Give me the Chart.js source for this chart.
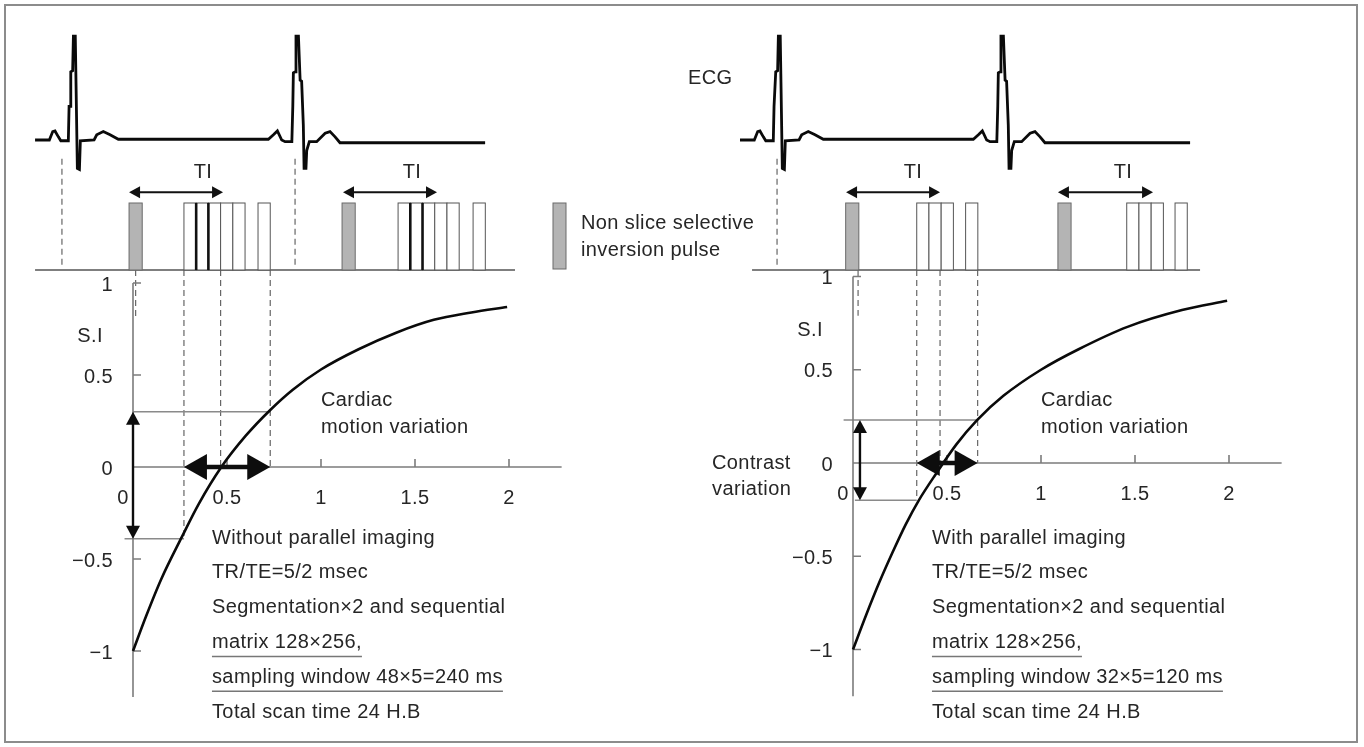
<!DOCTYPE html>
<html>
<head>
<meta charset="utf-8">
<script src="https://cdn.jsdelivr.net/npm/chart.js@4.4.1/dist/chart.umd.min.js"></script>
<style>
    html, body { margin: 0; padding: 0; background: #fff; }
    #marco { width: 1364px; height: 747px; }
</style>
</head>
<body>
<div id="marco"><canvas id="grafico" width="1364" height="747"></canvas></div>
<script>
// ================== DATOS ==================

// Ejes de la curva de recuperacion (tiempo en s, S.I relativa)
const xTicks = [0.5, 1, 1.5, 2];
const yTicks = [1, 0.5, -0.5, -1];
const yTickValues = [1, 0.5, 0, -0.5, -1];
const yTickLabels = ['1', '0.5', '0', '\u22120.5', '\u22121'];

// ECG: tiempo desde el inicio del trazo (s) y amplitud relativa a la onda R
const ecgT = [0, 0.076, 0.094, 0.106, 0.124, 0.137, 0.177, 0.181, 0.186, 0.190, 0.200, 0.204, 0.214,
    0.225, 0.236, 0.241, 0.314, 0.328, 0.363, 0.399, 0.443, 1.241, 1.268, 1.289, 1.312, 1.330, 1.366,
    1.371, 1.374, 1.385, 1.388, 1.401, 1.410, 1.418, 1.427, 1.431, 1.441, 1.445, 1.459, 1.498,
    1.543, 1.569, 1.596, 1.622, 2.394];
const ecgV = [0, 0, 0.08, 0.086, 0.03, -0.007, -0.007, 0.32, 0.32, 0.65, 0.66, 0.99, 0.99,
    -0.27, -0.28, -0.007, 0, 0.05, 0.08, 0.05, 0.007, 0.007, 0.05, 0.086, 0, -0.016, -0.016,
    0.32, 0.64, 0.65, 0.99, 0.99, 0.57, 0.56, 0.14, -0.27, -0.27, -0.1, -0.016, -0.016,
    0.064, 0.08, 0.03, -0.026, -0.026];
const ecgStartL = -0.521;
const ecgStartR = -0.601;

// Curvas de recuperacion de la senal
const curveLX = [0, 0.07, 0.15, 0.26, 0.35, 0.47, 0.6, 0.73, 0.85, 1.0, 1.2, 1.4, 1.6, 1.8, 1.99];
const curveLY = [-1, -0.81, -0.61, -0.38, -0.20, 0, 0.17, 0.31, 0.42, 0.53, 0.64, 0.73, 0.80, 0.84, 0.87];
const curveRX = [0, 0.07, 0.14, 0.21, 0.28, 0.35, 0.44, 0.55, 0.66, 0.8, 1.0, 1.2, 1.46, 1.75, 1.99];
const curveRY = [-1, -0.815, -0.64, -0.48, -0.33, -0.20, -0.06, 0.10, 0.23, 0.36, 0.50, 0.61, 0.73, 0.82, 0.87];

// Secuencia de pulsos (inicio de cada bloque, s)
const invWidth = 0.07;
const boxWidth = 0.065;
const invL = [-0.021, 1.112];
const readL = [0.271, 0.336, 0.401, 0.466, 0.531, 0.665, 1.410, 1.475, 1.540, 1.605, 1.670, 1.809];
const thickL = [0.336, 0.401, 1.475, 1.540];
const invR = [-0.039, 1.090];
const readR = [0.339, 0.404, 0.469, 0.599, 1.456, 1.521, 1.586, 1.713];
const thickR = [];

// TI (inicio, fin) y posicion de la etiqueta
const tiL = [[-0.021, 0.479], [1.117, 1.617]];
const tiLabelL = [0.372, 1.484];
const tiR = [[-0.037, 0.463], [1.090, 1.596]];
const tiLabelR = [0.319, 1.436];

// Disparos del ECG (lineas discontinuas superiores)
const trigL = [-0.378, 0.862];
const trigR = [-0.404];
const baseL = [-0.521, 2.032];
const baseR = [-0.537, 1.846];

// Lineas discontinuas hacia la curva: tiempo y S.I donde terminan
const marksL = [0.014, 0.271, 0.466, 0.730];
const marksEndL = [0.82, -0.39, 0, 0];
const marksR = [0.027, 0.339, 0.463, 0.663];
const marksEndR = [0.79, -0.20, 0, 0];

// Lineas horizontales [desde, hasta, S.I]
const hLinesL = [[0, 0.730, 0.30], [-0.045, 0.271, -0.39]];
const hLinesR = [[-0.05, 0.663, 0.23], [0.01, 0.339, -0.20]];

// Flechas: variacion de contraste [x, S.I min, S.I max] y de movimiento [t0, t1]
const contrastL = [0, -0.39, 0.30];
const contrastR = [0.037, -0.20, 0.23];
const motionL = [0.271, 0.730];
const motionR = [0.339, 0.663];

const textL = ['Without parallel imaging', 'TR/TE=5/2 msec', 'Segmentation\u00d72 and sequential',
    'matrix 128\u00d7256,', 'sampling window 48\u00d75=240 ms', 'Total scan time 24 H.B'];
const textR = ['With parallel imaging', 'TR/TE=5/2 msec', 'Segmentation\u00d72 and sequential',
    'matrix 128\u00d7256,', 'sampling window 32\u00d75=120 ms', 'Total scan time 24 H.B'];

// ================== CONFIGURACION DE PANELES ==================

const FUENTE = '20px "Liberation Sans", Arial, sans-serif';
const TINTA = '#262626';
const GRIS = '#7c7c7c';

const paneles = [
    { x: 'xL', y: 'yL', inv: invL, read: readL, thick: thickL, ti: tiL, tiLabel: tiLabelL,
      trig: trigL, base: baseL, marks: marksL, marksEnd: marksEndL, hLines: hLinesL,
      contrast: contrastL, motion: motionL, text: textL },
    { x: 'xR', y: 'yR', inv: invR, read: readR, thick: thickR, ti: tiR, tiLabel: tiLabelR,
      trig: trigR, base: baseR, marks: marksR, marksEnd: marksEndR, hLines: hLinesR,
      contrast: contrastR, motion: motionR, text: textR }
];

// Flecha doble con puntas rellenas
function flecha(ctx, x1, y1, x2, y2, largo, ancho, grosor) {
    const ang = Math.atan2(y2 - y1, x2 - x1);
    const c = Math.cos(ang), s = Math.sin(ang);
    ctx.lineWidth = grosor;
    ctx.beginPath();
    ctx.moveTo(x1 + c * largo * 0.8, y1 + s * largo * 0.8);
    ctx.lineTo(x2 - c * largo * 0.8, y2 - s * largo * 0.8);
    ctx.stroke();
    [[x2, y2, c, s], [x1, y1, -c, -s]].forEach(function (p) {
        const x = p[0], y = p[1], cc = p[2], ss = p[3];
        ctx.beginPath();
        ctx.moveTo(x, y);
        ctx.lineTo(x - cc * largo - ss * ancho, y - ss * largo + cc * ancho);
        ctx.lineTo(x - cc * largo + ss * ancho, y - ss * largo - cc * ancho);
        ctx.closePath();
        ctx.fill();
    });
}

function texto(ctx, t, x, y, align) {
    ctx.textAlign = align || 'left';
    ctx.fillText(t, x, y);
}

// Fondo de cada panel: pulsos, ejes y guias
function dibujarFondo(chart, p) {
    const ctx = chart.ctx;
    const sx = chart.scales[p.x], sy = chart.scales[p.y], sp = chart.scales.yP;
    const X = v => sx.getPixelForValue(v);
    const Y = v => sy.getPixelForValue(v);
    const P = v => sp.getPixelForValue(v);

    // linea base de pulsos
    ctx.strokeStyle = '#555';
    ctx.lineWidth = 1.5;
    ctx.beginPath();
    ctx.moveTo(X(p.base[0]), P(0));
    ctx.lineTo(X(p.base[1]), P(0));
    ctx.stroke();

    // disparo del ECG
    ctx.setLineDash([6, 4]);
    ctx.lineWidth = 1.2;
    ctx.strokeStyle = '#666';
    p.trig.forEach(function (t) {
        ctx.beginPath();
        ctx.moveTo(X(t), P(1.66));
        ctx.lineTo(X(t), P(0.08));
        ctx.stroke();
    });

    // lineas discontinuas hasta la curva
    p.marks.forEach(function (t, i) {
        ctx.beginPath();
        ctx.moveTo(X(t), P(0));
        ctx.lineTo(X(t), Y(p.marksEnd[i]));
        ctx.stroke();
    });
    ctx.setLineDash([]);

    // pulsos de inversion
    ctx.lineWidth = 1;
    p.inv.forEach(function (t) {
        const x0 = X(t), x1 = X(t + invWidth);
        ctx.fillStyle = '#b4b4b4';
        ctx.fillRect(x0, P(1), x1 - x0, P(0) - P(1));
        ctx.strokeStyle = '#6a6a6a';
        ctx.strokeRect(x0, P(1), x1 - x0, P(0) - P(1));
    });

    // lecturas
    p.read.forEach(function (t) {
        const x0 = X(t), x1 = X(t + boxWidth);
        ctx.fillStyle = '#fff';
        ctx.fillRect(x0, P(1), x1 - x0, P(0) - P(1));
        ctx.strokeStyle = '#555';
        ctx.lineWidth = 1;
        ctx.strokeRect(x0, P(1), x1 - x0, P(0) - P(1));
    });
    ctx.strokeStyle = '#111';
    ctx.lineWidth = 2.6;
    p.thick.forEach(function (t) {
        ctx.beginPath();
        ctx.moveTo(X(t), P(1));
        ctx.lineTo(X(t), P(0));
        ctx.stroke();
    });

    // TI
    ctx.strokeStyle = '#111';
    ctx.fillStyle = '#111';
    p.ti.forEach(function (r) {
        flecha(ctx, X(r[0]), P(1.16), X(r[1]), P(1.16), 11, 6, 2);
    });
    ctx.fillStyle = TINTA;
    ctx.font = FUENTE;
    ctx.textBaseline = 'middle';
    p.tiLabel.forEach(function (t) { texto(ctx, 'TI', X(t), P(1.46), 'center'); });

    // lineas horizontales de referencia
    ctx.strokeStyle = '#8a8a8a';
    ctx.lineWidth = 1.5;
    p.hLines.forEach(function (h) {
        ctx.beginPath();
        ctx.moveTo(X(h[0]), Y(h[2]));
        ctx.lineTo(X(h[1]), Y(h[2]));
        ctx.stroke();
    });

    // ejes
    ctx.strokeStyle = GRIS;
    ctx.lineWidth = 1.6;
    ctx.beginPath();
    ctx.moveTo(X(0), Y(1));
    ctx.lineTo(X(0), Y(-1.25));
    ctx.moveTo(X(0), Y(0));
    ctx.lineTo(X(2.28), Y(0));
    yTicks.forEach(function (v) {
        ctx.moveTo(X(0), Y(v));
        ctx.lineTo(X(0) + 8, Y(v));
    });
    xTicks.forEach(function (v) {
        ctx.moveTo(X(v), Y(0));
        ctx.lineTo(X(v), Y(0) - 8);
    });
    ctx.stroke();

    // etiquetas de los ejes
    ctx.fillStyle = TINTA;
    yTickValues.forEach(function (v, i) {
        texto(ctx, yTickLabels[i], X(0) - 20, Y(v) + 2, 'right');
    });
    texto(ctx, '0', X(0) - 10, Y(0) + 31, 'center');
    xTicks.forEach(function (v) {
        texto(ctx, String(v), X(v), Y(0) + 31, 'center');
    });
    texto(ctx, 'S.I', X(0) - 30, Y(0.71), 'right');
}

// Frente: flechas y textos
function dibujarFrente(chart, p) {
    const ctx = chart.ctx;
    const sx = chart.scales[p.x], sy = chart.scales[p.y];
    const X = v => sx.getPixelForValue(v);
    const Y = v => sy.getPixelForValue(v);

    ctx.strokeStyle = '#0d0d0d';
    ctx.fillStyle = '#0d0d0d';
    flecha(ctx, X(p.contrast[0]), Y(p.contrast[2]), X(p.contrast[0]), Y(p.contrast[1]), 13, 7, 2.4);
    flecha(ctx, X(p.motion[0]), Y(0), X(p.motion[1]), Y(0), 23, 13, 4.5);

    ctx.fillStyle = TINTA;
    ctx.font = FUENTE;
    ctx.textBaseline = 'middle';
    texto(ctx, 'Cardiac', X(1.0), 400);
    texto(ctx, 'motion variation', X(1.0), 427);

    const tx = X(0.42);
    p.text.forEach(function (t, i) {
        const ty = 538 + i * 34.8;
        texto(ctx, t, tx, ty);
        if (i === 3 || i === 4) {
            const w = ctx.measureText(t).width;
            ctx.strokeStyle = '#777';
            ctx.lineWidth = 1.5;
            ctx.beginPath();
            ctx.moveTo(tx, ty + 14);
            ctx.lineTo(tx + w, ty + 14);
            ctx.stroke();
        }
    });
}

const diagrama = {
    id: 'diagrama',
    beforeDatasetsDraw(chart) {
        const ctx = chart.ctx;
        ctx.save();
        if ('letterSpacing' in ctx) ctx.letterSpacing = '0.4px';
        ctx.strokeStyle = '#8c8c8c';
        ctx.lineWidth = 2;
        ctx.strokeRect(5, 5, 1352, 737);
        paneles.forEach(p => dibujarFondo(chart, p));

        // leyenda del pulso de inversion
        ctx.fillStyle = '#b4b4b4';
        ctx.fillRect(553, 203, 13, 66);
        ctx.strokeStyle = '#6a6a6a';
        ctx.lineWidth = 1;
        ctx.strokeRect(553, 203, 13, 66);
        ctx.fillStyle = TINTA;
        ctx.font = FUENTE;
        ctx.textBaseline = 'middle';
        texto(ctx, 'Non slice selective', 581, 223);
        texto(ctx, 'inversion pulse', 581, 250);
        texto(ctx, 'ECG', 688, 78);
        texto(ctx, 'Contrast', 712, 463);
        texto(ctx, 'variation', 712, 489);
        ctx.restore();
    },
    afterDatasetsDraw(chart) {
        const ctx = chart.ctx;
        ctx.save();
        if ('letterSpacing' in ctx) ctx.letterSpacing = '0.4px';
        paneles.forEach(p => dibujarFrente(chart, p));
        ctx.restore();
    }
};

// ================== GRAFICO ==================

const lineaNegra = { borderColor: '#0a0a0a', pointRadius: 0, fill: false };

new Chart(document.getElementById('grafico'), {
    type: 'line',
    data: {
        datasets: [
            Object.assign({ label: 'ECG izq', xAxisID: 'xL', yAxisID: 'yE', tension: 0, borderWidth: 2.8,
                data: ecgT.map((t, i) => ({ x: ecgStartL + t, y: ecgV[i] })) }, lineaNegra),
            Object.assign({ label: 'ECG der', xAxisID: 'xR', yAxisID: 'yE', tension: 0, borderWidth: 2.8,
                data: ecgT.map((t, i) => ({ x: ecgStartR + t, y: ecgV[i] })) }, lineaNegra),
            Object.assign({ label: 'Sin imagen paralela', xAxisID: 'xL', yAxisID: 'yL', borderWidth: 2.6,
                cubicInterpolationMode: 'monotone',
                data: curveLX.map((x, i) => ({ x: x, y: curveLY[i] })) }, lineaNegra),
            Object.assign({ label: 'Con imagen paralela', xAxisID: 'xR', yAxisID: 'yR', borderWidth: 2.6,
                cubicInterpolationMode: 'monotone',
                data: curveRX.map((x, i) => ({ x: x, y: curveRY[i] })) }, lineaNegra)
        ]
    },
    options: {
        responsive: false,
        animation: false,
        devicePixelRatio: 1,
        events: [],
        layout: { padding: 0 },
        plugins: { legend: { display: false }, tooltip: { enabled: false }, title: { display: false } },
        scales: {
            xL: { type: 'linear', axis: 'x', display: false, min: -133 / 188, max: (1364 - 133) / 188 },
            xR: { type: 'linear', axis: 'x', display: false, min: -853 / 188, max: (1364 - 853) / 188 },
            yL: { type: 'linear', axis: 'y', display: false, min: -280 / 184, max: 467 / 184 },
            yR: { type: 'linear', axis: 'y', display: false, min: -284 / 186.5, max: 463 / 186.5 },
            yE: { type: 'linear', axis: 'y', display: false, min: -607 / 105, max: 140 / 105 },
            yP: { type: 'linear', axis: 'y', display: false, min: -477 / 67, max: 270 / 67 }
        }
    },
    plugins: [diagrama]
});
</script>
</body>
</html>
